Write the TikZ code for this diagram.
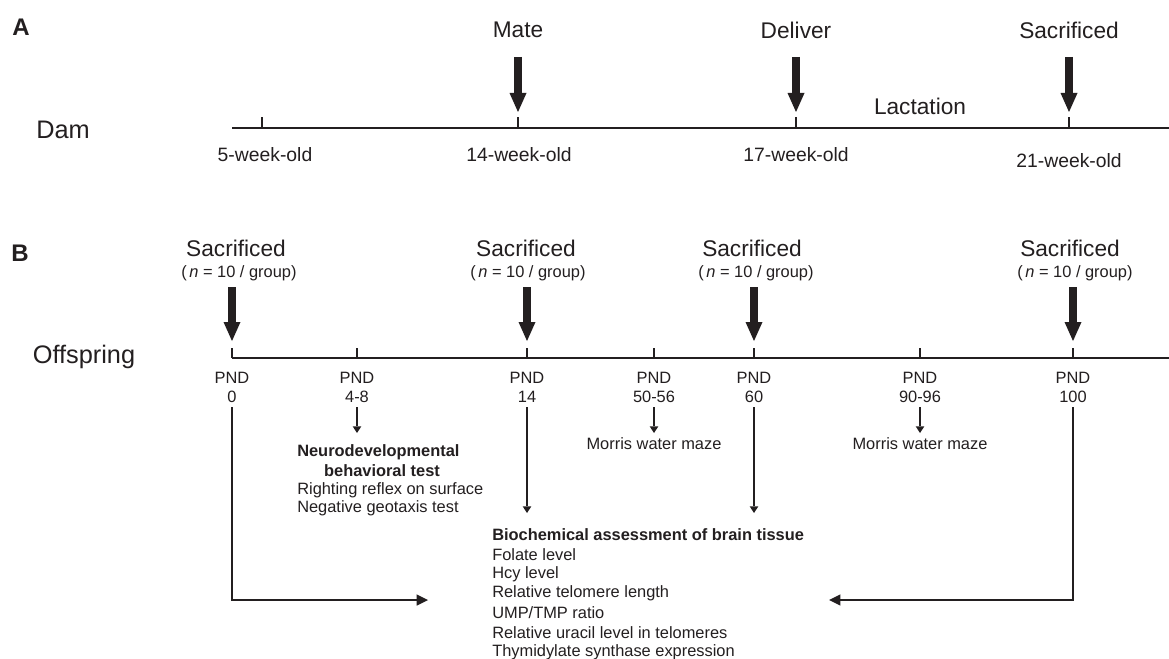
\documentclass[tikz,border=0pt]{standalone}
\usepackage{fontspec}
\setmainfont{Liberation Sans}
\usetikzlibrary{arrows.meta}
\definecolor{ink}{RGB}{35,31,32}
\begin{document}
\begin{tikzpicture}[x=0.75pt,y=-0.75pt,
  every node/.style={text=ink, inner sep=0pt},
  axis/.style={draw=ink, line width=1.9pt},
  tickline/.style={draw=ink, line width=1.2pt},
  heavy/.style={draw=ink, line width=6.3pt, -{Triangle[width=12.75pt,length=14.25pt,line width=0pt]}},
  thinarrow/.style={draw=ink, line width=1.1pt, -{Triangle[width=6.5pt,length=5pt,line width=0pt]}},
  connector/.style={draw=ink, line width=1.4pt, -{Triangle[width=8.5pt,length=8.5pt,line width=0pt]}},
  panel/.style={font=\bfseries\fontsize{18}{20}\selectfont},
  big/.style={font=\fontsize{17}{20}\selectfont},
  side/.style={font=\fontsize{19}{22}\selectfont},
  week/.style={font=\fontsize{14.5}{17}\selectfont},
  small/.style={font=\fontsize{12.3}{14.5}\selectfont},
  smallbold/.style={font=\bfseries\fontsize{12.3}{14.5}\selectfont}
]
\useasboundingbox (0,0) rectangle (1169,659);
\fill[white] (0,0) rectangle (1169,659);

% ---------------- Panel A ----------------
\node[panel] (A) at (21,27) {A};
\node[side] (dam) at (63,130) {Dam};
\coordinate (dL) at (232,128);
\coordinate (dR) at (1169,128);
\draw[axis] (dL) -- (dR);

\foreach \x/\n in {262/1,518/2,796/3,1069/4}{
  \coordinate (dt\n) at (\x,128);
  \coordinate (dh\n) at (\x,117);
  \draw[tickline] (dt\n) -- (dh\n);
}

\node[big] (mate) at (518,30) {Mate};
\node[big] (deliver) at (796,30) {Deliver};
\node[big] (sacA) at (1069,30) {Sacrificed};
\node[big] (lact) at (920,106) {Lactation};

\foreach \x/\n in {518/2,796/3,1069/4}{
  \coordinate (das\n) at (\x,57);
  \coordinate (dae\n) at (\x,112);
  \draw[heavy] (das\n) -- (dae\n);
}

\node[week] (w5) at (265,155) {5-week-old};
\node[week] (w14) at (519,155) {14-week-old};
\node[week] (w17) at (796,155) {17-week-old};
\node[week] (w21) at (1069,161) {21-week-old};

% ---------------- Panel B ----------------
\node[panel] (B) at (20,253) {B};
\node[side] (off) at (84,357) {Offspring};
\coordinate (oL) at (232,358);
\coordinate (oR) at (1169,358);
\draw[axis] (oL) -- (oR);

\foreach \x/\n in {232/1,357/2,527/3,654/4,754/5,920/6,1073/7}{
  \coordinate (ot\n) at (\x,358);
  \coordinate (oh\n) at (\x,348);
  \draw[tickline] (ot\n) -- (oh\n);
}

\foreach \x/\sx/\nx/\n in {232/236/239/1,527/526/528/3,754/752/756/5,1073/1070/1075/7}{
  \node[big] (sac\n) at (\sx,248) {Sacrificed};
  \node[small] (grp\n) at (\nx,273) {(\hspace{0.15em}\textit{n} = 10 / group)};
  \coordinate (os\n) at (\x,287);
  \coordinate (oe\n) at (\x,341);
  \draw[heavy] (os\n) -- (oe\n);
}

\foreach \x/\lab/\n in {232/0/1,357/4-8/2,527/14/3,654/50-56/4,754/60/5,920/90-96/6,1073/100/7}{
  \node[small] (pnd\n) at (\x,378) {PND};
  \node[small] (day\n) at (\x,397) {\lab};
  \coordinate (ds\n) at (\x,407);
}

% short arrows
\foreach \n in {2,4,6}{
  \path (ds\n) ++(0,26) coordinate (de\n);
  \draw[thinarrow] (ds\n) -- (de\n);
}

\node[small] (mwm1) at (654,444) {Morris water maze};
\node[small] (mwm2) at (920,444) {Morris water maze};

\node[smallbold, anchor=west] (neuro1) at (297,452) {Neurodevelopmental};
\node[smallbold] (neuro2) at (382,471) {behavioral test};
\node[small, anchor=west] (neuro3) at (297,490) {Righting reflex on surface};
\node[small, anchor=west] (neuro4) at (297,508) {Negative geotaxis test};

% long arrows to biochemical block
\coordinate (be3) at (527,513);
\coordinate (be5) at (754,513);
\draw[thinarrow] (ds3) -- (be3);
\draw[thinarrow] (ds5) -- (be5);

\node[smallbold, anchor=west] (bio0) at (492,535) {Biochemical assessment of brain tissue};
\node[small, anchor=west] (bio1) at (492,555) {Folate level};
\node[small, anchor=west] (bio2) at (492,574) {Hcy level};
\node[small, anchor=west] (bio3) at (492,593) {Relative telomere length};
\node[small, anchor=west] (bio4) at (492,613) {UMP/TMP ratio};
\node[small, anchor=west] (bio5) at (492,633) {Relative uracil level in telomeres};
\node[small, anchor=west] (bio6) at (492,652) {Thymidylate synthase expression};

\coordinate (lt) at (428,600);
\coordinate (rt) at (829,600);
\draw[connector] (ds1) |- (lt);
\draw[connector] (ds7) |- (rt);
\end{tikzpicture}
\end{document}
